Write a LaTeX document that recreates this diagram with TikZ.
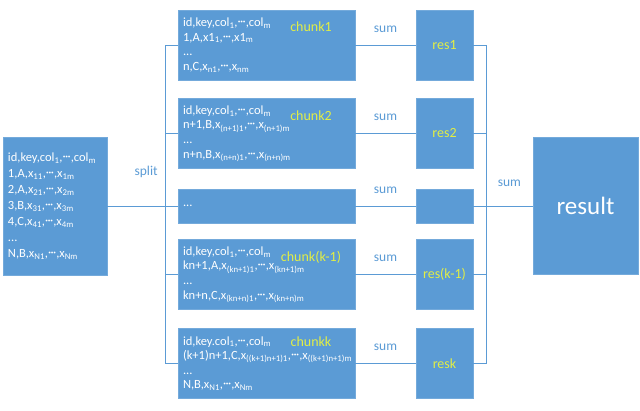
\documentclass[tikz,border=0pt]{standalone}
\usepackage{fontspec}
\setmainfont{Carlito}
\usepackage{tikz}
\usetikzlibrary{shapes.geometric, arrows}
\definecolor{boxblue}{HTML}{5B9BD5}
\definecolor{lineblue}{HTML}{5B9BD5}
\definecolor{tagyellow}{HTML}{E2EE45}
\newcommand{\sbs}[1]{\textsubscript{#1}}
\newcommand{\dts}{\raisebox{0.15ex}{·\kern-0.05em·\kern-0.05em·}}
\tikzstyle{data} = [rectangle, fill=boxblue, draw=boxblue!85!white, text=white, align=left, inner sep=5pt, font=\fontsize{12.5}{14.6}\selectfont]
\tikzstyle{chunkbox} = [data, minimum width=177pt, minimum height=70pt, text width=167pt]
\tikzstyle{resbox} = [rectangle, fill=boxblue, draw=boxblue!85!white, text=tagyellow, minimum width=57pt, minimum height=70pt, font=\fontsize{14}{16}\selectfont]
\tikzstyle{tag} = [text=tagyellow, font=\fontsize{14}{16}\selectfont]
\tikzstyle{lbl} = [text=lineblue, font=\fontsize{13.5}{16}\selectfont]
\tikzstyle{link} = [draw=lineblue, line width=0.9pt]

\begin{document}
\begin{tikzpicture}[x=1pt, y=-1pt, node distance=178pt]
        \useasboundingbox (0,0) rectangle (640,410);

        % input table
        \node (src) [data, minimum width=104pt, minimum height=138pt, text width=94pt, font=\fontsize{12.5}{16}\selectfont] at (55,206)
            {id,key,col\sbs{1},\dts,col\sbs{m}\\
             1,A,x\sbs{11},\dts,x\sbs{1m}\\
             2,A,x\sbs{21},\dts,x\sbs{2m}\\
             3,B,x\sbs{31},\dts,x\sbs{3m}\\
             4,C,x\sbs{41},\dts,x\sbs{4m}\\
             ...\\
             N,B,x\sbs{N1},\dts,x\sbs{Nm}};

        % chunks
        \node (c1) [chunkbox] at (266.5,45)
            {id,key,col\sbs{1},\dts,col\sbs{m}\\
             1,A,x1\sbs{1},\dts,x1\sbs{m}\\
             ...\\
             n,C,x\sbs{n1},\dts,x\sbs{nm}};
        \node (c2) [chunkbox] at (266.5,133.5)
            {id,key,col\sbs{1},\dts,col\sbs{m}\\
             n+1,B,x\sbs{(n+1)1},\dts,x\sbs{(n+1)m}\\
             ...\\
             n+n,B,x\sbs{(n+n)1},\dts,x\sbs{(n+n)m}};
        \node (c3) [chunkbox, minimum height=34pt] at (266.5,206) {...};
        \node (c4) [chunkbox] at (266.5,274.5)
            {id,key,col\sbs{1},\dts,col\sbs{m}\\
             kn+1,A,x\sbs{(kn+1)1},\dts,x\sbs{(kn+1)m}\\
             ...\\
             kn+n,C,x\sbs{(kn+n)1},\dts,x\sbs{(kn+n)m}};
        \node (c5) [chunkbox] at (266.5,363.5)
            {id,key.col\sbs{1},\dts,col\sbs{m}\\
             (k+1)n+1,C,x\sbs{((k+1)n+1)1},\dts,x\sbs{((k+1)n+1)m}\\
             ...\\
             N,B,x\sbs{N1},\dts,x\sbs{Nm}};

        % chunk names
        \node (t1) [tag] at (311,27) {chunk1};
        \node (t2) [tag] at (311,116) {chunk2};
        \node (t4) [tag] at (311,257) {chunk(k-1)};
        \node (t5) [tag, inner ysep=1pt] at (311,342) {chunkk};

        % partial results
        \node (r1) [resbox, right of=c1] {res1};
        \node (r2) [resbox, right of=c2] {res2};
        \node (r3) [resbox, right of=c3, minimum height=34pt] {};
        \node (r4) [resbox, right of=c4] {res(k-1)};
        \node (r5) [resbox, right of=c5] {resk};

        % final result
        \node (res) [resbox, text=white, minimum width=105pt, minimum height=137pt, font=\fontsize{25}{28}\selectfont] at (585.5,206) {result};

        \coordinate (busL) at (165,206);
        \coordinate (busR) at (486,206);

        \draw [link] (src) -- node[lbl, above=25pt, xshift=10pt] {split} (busL);
        \draw [link] (c1.west -| busL) -- (c5.west -| busL);
        \foreach \c in {c1,c2,c3,c4,c5}
            \draw [link] (\c.west -| busL) -- (\c.west);

        \foreach \c/\r in {c1/r1,c2/r2,c3/r3,c4/r4,c5/r5}
            \draw [link] (\c) -- node[lbl, above=9pt] {sum} (\r);

        \draw [link] (r1.east -| busR) -- (r5.east -| busR);
        \foreach \r in {r1,r2,r3,r4,r5}
            \draw [link] (\r.east) -- (\r.east -| busR);
        \draw [link] (busR) -- node[lbl, above=16pt] {sum} (res);
    \end{tikzpicture}
\end{document}
